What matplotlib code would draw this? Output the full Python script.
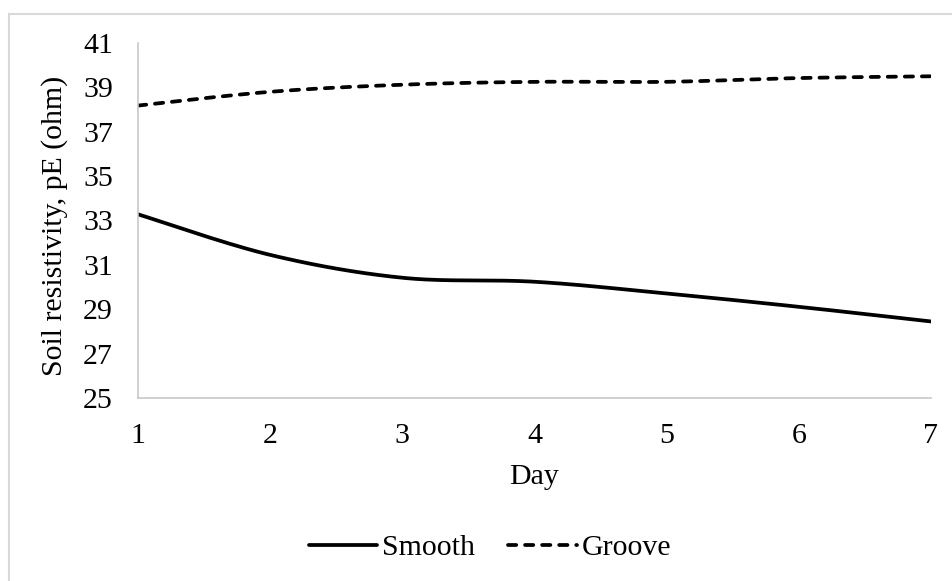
import numpy as np
import matplotlib
matplotlib.use("Agg")
import matplotlib.pyplot as plt
from matplotlib.lines import Line2D

days = [1, 2, 3, 4, 5, 6, 7]
smooth = [33.28, 31.45, 30.42, 30.24, 29.71, 29.11, 28.45]
groove = [38.18, 38.80, 39.12, 39.25, 39.25, 39.42, 39.50]
y_ticks = [25, 27, 29, 31, 33, 35, 37, 39, 41]

plt.rcParams['font.family'] = ['Liberation Serif', 'DejaVu Serif']
FS = 21.5


def excel_smooth(x, y, n=40):
    x = np.asarray(x, float)
    y = np.asarray(y, float)
    P = np.column_stack([x, y])
    m = len(P)
    out = []
    for i in range(m - 1):
        p0 = P[i - 1] if i > 0 else P[i]
        p1 = P[i]
        p2 = P[i + 1]
        p3 = P[i + 2] if i + 2 < m else P[i + 1]
        c1 = p1 + (p2 - p0) / 6.0
        c2 = p2 - (p3 - p1) / 6.0
        t = np.linspace(0, 1, n)[:, None]
        seg = ((1 - t) ** 3) * p1 + 3 * ((1 - t) ** 2) * t * c1 + 3 * (1 - t) * t ** 2 * c2 + t ** 3 * p2
        if i > 0:
            seg = seg[1:]
        out.append(seg)
    out = np.vstack(out)
    return out[:, 0], out[:, 1]


fig = plt.figure(figsize=(9.53, 5.81), dpi=100)
W, H = 953, 581
ax = fig.add_axes([138 / W, 1 - 398 / H, (931 - 138) / W, (398 - 43) / H])

sx, sy = excel_smooth(days, smooth)
gx, gy = excel_smooth(days, groove)
ax.plot(sx, sy, color='black', lw=2.7, solid_capstyle='round', label='Smooth')
ax.plot(gx, gy, color='black', lw=2.7, linestyle=(0, (2.2, 2.35)),
        dash_capstyle='round', label='Groove')

ax.set_xlim(1, 7)
ax.set_ylim(25, 41)
ax.set_xticks(days)
ax.set_yticks(y_ticks)
ax.tick_params(length=0, labelsize=FS, colors='black')
ax.tick_params(axis='y', pad=18)
ax.tick_params(axis='x', pad=18)
for s in ['top', 'right']:
    ax.spines[s].set_visible(False)
for s in ['left', 'bottom']:
    ax.spines[s].set_color('#C8C8C8')
    ax.spines[s].set_linewidth(1.2)

fig.text(534 / W, 1 - 477 / H, 'Day', ha='center', va='center', fontsize=FS)
fig.text(55 / W, 1 - 226 / H, 'Soil resistivity, pE (ohm)', ha='center', va='center',
         rotation=90, fontsize=FS)

leg = fig.legend(loc='center', bbox_to_anchor=(490 / W, 1 - 548 / H), ncol=2,
                 frameon=False, fontsize=FS, handlelength=2.3, handletextpad=0.17,
                 columnspacing=1.1, borderpad=0, borderaxespad=0)

# outer chart frame (top and left edges visible)
fig.add_artist(Line2D([9 / W, 1.0], [1 - 14 / H, 1 - 14 / H], transform=fig.transFigure,
                      color='#D9D9D9', lw=1.5))
fig.add_artist(Line2D([9 / W, 9 / W], [0.0, 1 - 14 / H], transform=fig.transFigure,
                      color='#D9D9D9', lw=1.5))

fig.savefig('out.png', dpi=100)
